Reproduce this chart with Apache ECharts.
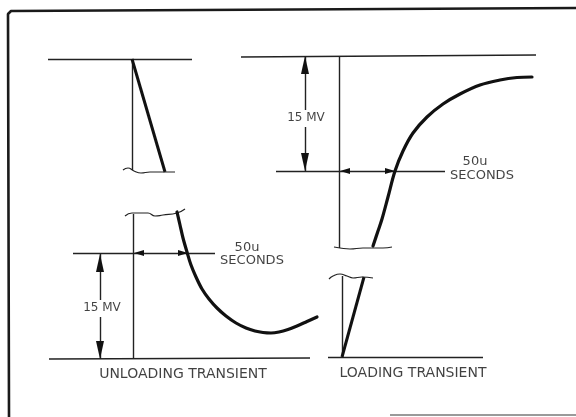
<!DOCTYPE html>
<html>
<head>
<meta charset="utf-8">
<script src="https://cdn.jsdelivr.net/npm/echarts@6/dist/echarts.min.js"></script>
<style>html,body{margin:0;padding:0;background:#fff}#c{width:576px;height:417px}</style>
</head>
<body>
<div id="c"></div>
<script>
// Diagram drawn in a pixel-like value space (x 0..576, y 0..417 downward)
const frame = [[9, 417], [8, 14], [11, 11], [576, 8]];
const bottomEdge = [[390, 415], [576, 415]];

const thinSegments = [
  [[48, 59], [192, 59]],      // unloading top reference
  [[132, 59], [132, 170]],    // unloading step marker (upper)
  [[133, 214], [133, 358]],   // unloading step marker (lower)
  [[73, 253], [215, 253]],    // unloading 50us reference
  [[49, 359], [310, 358]],    // unloading baseline
  [[100, 253], [100, 300]],   // unloading 15mV dim (upper)
  [[100, 317], [100, 359]],   // unloading 15mV dim (lower)
  [[241, 57], [536, 55]],     // loading top reference
  [[305, 56], [305, 110]],    // loading 15mV dim (upper)
  [[305, 127], [305, 171]],   // loading 15mV dim (lower)
  [[276, 171], [445, 171]],   // loading 50us reference
  [[339, 56], [339, 248]],    // loading step marker (upper)
  [[342, 276], [342, 357]],   // loading step marker (lower)
  [[328, 357], [483, 357]]    // loading baseline
];

const thickSegments = [
  [[132, 59], [165, 172]],
  [[342, 357], [364, 277]]
];

const breakMarks = [
  [[123, 170], [128, 168], [134, 171], [141, 173], [150, 172], [160, 172], [175, 172]],
  [[125, 216], [132, 213], [140, 213], [148, 213], [155, 216], [163, 215], [177, 213], [185, 209]],
  [[334, 247], [340, 248], [350, 249], [363, 248], [373, 248], [383, 248], [392, 247]],
  [[329, 279], [333, 276], [340, 274], [347, 276], [353, 278], [362, 277], [373, 278]]
];

const unloadingCurve = [[177, 212], [180, 225], [183, 238], [187, 252], [191, 265], [196, 277], [202, 289],
  [209, 299], [217, 308], [226, 316], [236, 323], [246, 328], [255, 331], [263, 332.5], [271, 333],
  [279, 332], [288, 329.5], [297, 326], [307, 321.5], [317, 317]];
const loadingCurve = [[373, 246], [378, 231], [382, 219], [388, 197], [395, 171], [403, 151], [413, 133],
  [427, 117], [443, 104], [460, 94], [480, 85], [500, 80], [517, 77.5], [532, 77]];

// arrowheads: [x, y, rotation]
const arrowsLong = [[100, 263, 0], [100, 350, 180], [305, 65, 0], [305, 162, 180]];
const arrowsShort = [[139, 253, 90], [183, 253, -90], [345, 171, 90], [390, 171, -90]];

// labels: [x, y, text, size]
const labels = [
  [102, 308, '15 MV', 12],
  [306, 118, '15 MV', 12],
  [247, 248, '50u', 13],
  [252, 261, 'SECONDS', 13],
  [475, 162, '50u', 13],
  [482, 176, 'SECONDS', 13],
  [183, 374, 'UNLOADING TRANSIENT', 14],
  [413, 373, 'LOADING TRANSIENT', 14]
];

const INK = '#222';
const series = [];
series.push({ type: 'line', data: frame, showSymbol: false, silent: true,
  lineStyle: { color: '#1a1a1a', width: 2.6 } });
series.push({ type: 'line', data: bottomEdge, showSymbol: false, silent: true,
  lineStyle: { color: '#9a9a9a', width: 2 } });
series.push({ type: 'lines', coordinateSystem: 'cartesian2d', silent: true,
  data: thinSegments.map(s => ({ coords: s })),
  lineStyle: { color: INK, width: 1.4, opacity: 1 } });
series.push({ type: 'lines', coordinateSystem: 'cartesian2d', silent: true,
  data: thickSegments.map(s => ({ coords: s })),
  lineStyle: { color: '#111', width: 3, opacity: 1 } });
breakMarks.forEach(b => series.push({ type: 'line', data: b, smooth: true, showSymbol: false, silent: true,
  lineStyle: { color: INK, width: 1.2 } }));
[unloadingCurve, loadingCurve].forEach(c => series.push({ type: 'line', data: c, smooth: 0.35, showSymbol: false,
  silent: true, lineStyle: { color: '#111', width: 3.2, cap: 'round' } }));
series.push({ type: 'scatter', silent: true, symbol: 'triangle',
  data: arrowsLong.map(a => ({ value: [a[0], a[1]], symbolRotate: a[2] })),
  symbolSize: [8, 18], itemStyle: { color: '#111', opacity: 1 } });
series.push({ type: 'scatter', silent: true, symbol: 'triangle',
  data: arrowsShort.map(a => ({ value: [a[0], a[1]], symbolRotate: a[2] })),
  symbolSize: [6, 10], itemStyle: { color: '#111', opacity: 1 } });
series.push({ type: 'scatter', silent: true, symbolSize: 0,
  data: labels.map(l => ({ value: [l[0], l[1]], label: { show: true, position: 'inside', formatter: l[2],
    fontSize: l[3], fontFamily: 'DejaVu Sans', color: '#111', align: 'center', verticalAlign: 'middle' } })) });

const chart = echarts.init(document.getElementById('c'), null, { renderer: 'canvas' });
chart.setOption({
  animation: false,
  backgroundColor: '#ffffff',
  grid: { left: 0, right: 0, top: 0, bottom: 0 },
  xAxis: { type: 'value', min: 0, max: 576, show: false },
  yAxis: { type: 'value', min: 0, max: 417, inverse: true, show: false },
  series: series
});
</script>
</body>
</html>
